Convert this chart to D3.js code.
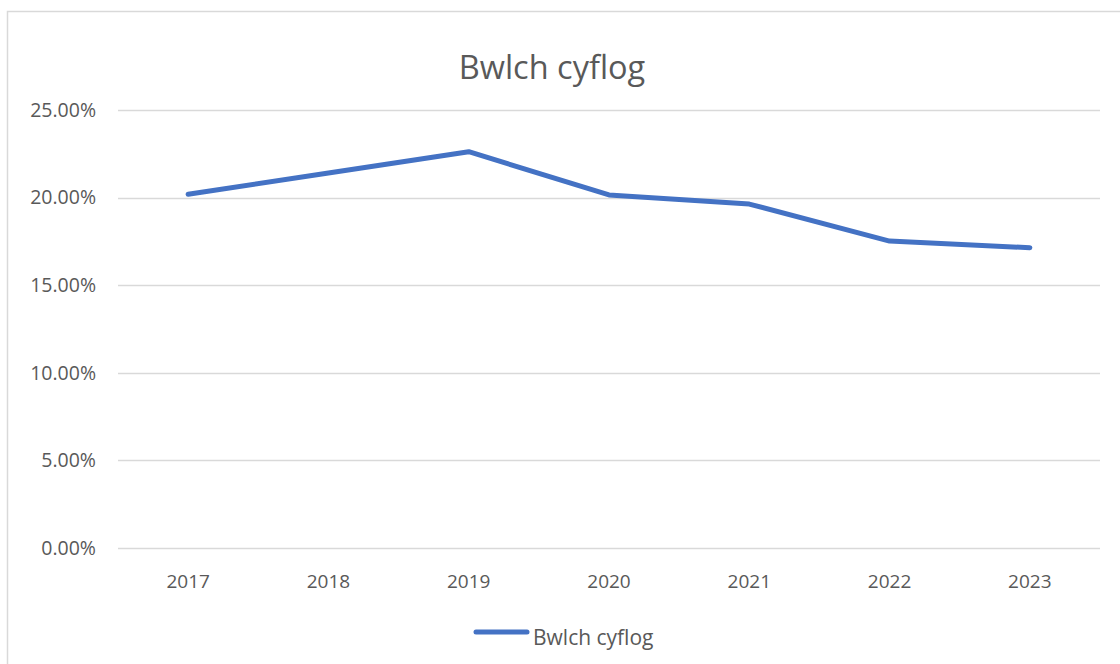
<!DOCTYPE html>
<html>
<head>
<meta charset="utf-8">
<script src="https://cdn.jsdelivr.net/npm/d3@7"></script>
<style>
  body { margin: 0; background: #fff; }
  text { font-family: "Open Sans", "Liberation Sans", sans-serif; fill: #595959; }
</style>
</head>
<body>
<div id="chart"></div>
<script>
// Data
const years = ["2017", "2018", "2019", "2020", "2021", "2022", "2023"];
const gapValues = [0.2019, 0.214, 0.2262, 0.2015, 0.1963, 0.1752, 0.1714];
const yTicks = [0, 0.05, 0.10, 0.15, 0.20, 0.25];
const seriesName = "Bwlch cyflog";

const width = 1120;
const height = 664;
const margin = { top: 110, right: 20, bottom: 116, left: 118 };

const svg = d3
  .select("#chart")
  .append("svg")
  .attr("width", width)
  .attr("height", height);

// Chart area border
svg
  .append("rect")
  .attr("x", 7.5)
  .attr("y", 11.5)
  .attr("width", width + 10)
  .attr("height", height + 10)
  .attr("fill", "none")
  .attr("stroke", "#d9d9d9")
  .attr("stroke-width", 1.5);

// Scales
const xScale = d3
  .scaleBand()
  .domain(years)
  .range([margin.left, width - margin.right]);

const yScale = d3
  .scaleLinear()
  .domain([0, 0.25])
  .range([height - margin.bottom, margin.top]);

// Gridlines
svg
  .append("g")
  .selectAll("line")
  .data(yTicks)
  .join("line")
  .attr("x1", margin.left)
  .attr("x2", width - margin.right)
  .attr("y1", (d) => Math.round(yScale(d)) + 0.5)
  .attr("y2", (d) => Math.round(yScale(d)) + 0.5)
  .attr("stroke", "#d9d9d9")
  .attr("stroke-width", 1.3);

// Y axis
const yAxis = svg
  .append("g")
  .attr("transform", `translate(${margin.left}, 0)`)
  .call(
    d3.axisLeft(yScale)
      .tickValues(yTicks)
      .tickFormat(d3.format(".2%"))
      .tickSize(0)
      .tickPadding(22)
  );
yAxis.select(".domain").remove();
yAxis.selectAll("text").style("font-size", "19.5px").style("fill", "#595959");

// X axis
const xAxis = svg
  .append("g")
  .attr("transform", `translate(0, ${height - margin.bottom})`)
  .call(d3.axisBottom(xScale).tickSize(0).tickPadding(27));
xAxis.select(".domain").remove();
xAxis.selectAll("text").style("font-size", "19px").style("fill", "#595959");

// Line
const line = d3
  .line()
  .x((d, i) => xScale(years[i]) + xScale.bandwidth() / 2)
  .y((d) => yScale(d));

svg
  .append("path")
  .datum(gapValues)
  .attr("fill", "none")
  .attr("stroke", "#4472C4")
  .attr("stroke-width", 5)
  .attr("stroke-linecap", "round")
  .attr("stroke-linejoin", "round")
  .attr("d", line);

// Title
svg
  .append("text")
  .attr("x", 552)
  .attr("y", 79)
  .attr("text-anchor", "middle")
  .style("font-size", "32.5px")
  .text(seriesName);

// Legend
svg
  .append("line")
  .attr("x1", 476)
  .attr("x2", 527)
  .attr("y1", 632)
  .attr("y2", 632)
  .attr("stroke", "#4472C4")
  .attr("stroke-width", 5)
  .attr("stroke-linecap", "round");

svg
  .append("text")
  .attr("x", 533)
  .attr("y", 645)
  .style("font-size", "21px")
  .text(seriesName);
</script>
</body>
</html>
